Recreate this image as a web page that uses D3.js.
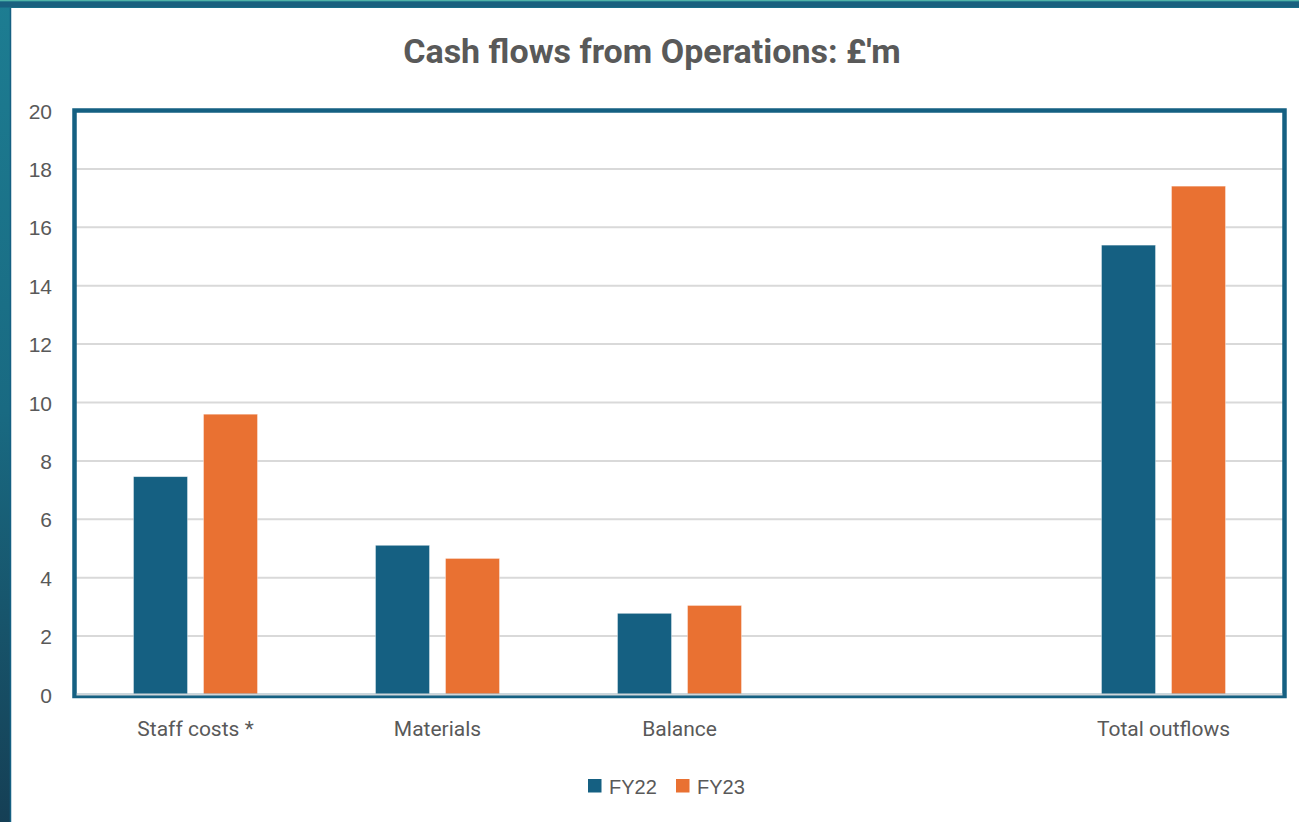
<!DOCTYPE html>
<html>
<head>
<meta charset="utf-8">
<script src="https://cdn.jsdelivr.net/npm/d3@7"></script>
<style>
  body { margin: 0; padding: 0; overflow: hidden; }
</style>
</head>
<body>
<div id="chart"></div>
<script>
// chart data
const categories = ["Staff costs *", "Materials", "Balance", "", "Total outflows"];
const seriesNames = ["FY22", "FY23"];
const fy22 = [7.46, 5.11, 2.78, null, 15.39];
const fy23 = [9.60, 4.66, 3.05, null, 17.41];
const yTicks = [0, 2, 4, 6, 8, 10, 12, 14, 16, 18, 20];

const W = 1299, H = 822;
const colors = { FY22: "#156082", FY23: "#E97132" };
const textGrey = "#595959";

const svg = d3.select("#chart")
    .append("svg")
    .attr("width", W)
    .attr("height", H);

// slide background behind the chart
const defs = svg.append("defs");
const grad = defs.append("linearGradient")
    .attr("id", "bg")
    .attr("x1", 0).attr("y1", 0).attr("x2", 0).attr("y2", 1);
grad.append("stop").attr("offset", "0%").attr("stop-color", "#1d7d92");
grad.append("stop").attr("offset", "50%").attr("stop-color", "#196a82");
grad.append("stop").attr("offset", "100%").attr("stop-color", "#153f55");

svg.append("rect").attr("width", W).attr("height", H).attr("fill", "url(#bg)");
svg.append("rect").attr("x", 0).attr("y", 0).attr("width", W).attr("height", 1.5).attr("fill", "#4fb3a8");
svg.append("rect").attr("x", 0).attr("y", 1.5).attr("width", W).attr("height", 6).attr("fill", "#19607f");
svg.append("rect")
    .attr("x", 11).attr("y", 8)
    .attr("width", W - 11).attr("height", H - 8)
    .attr("fill", "#ffffff");
svg.append("line")
    .attr("x1", 10.5).attr("x2", 10.5).attr("y1", 8).attr("y2", H)
    .attr("stroke", "#156082").attr("stroke-width", 1.5);

// scales
const plot = { left: 74.5, right: 1284.5, top: 110.5, bottom: 694.5 };

const x0 = d3.scaleBand()
    .domain(categories)
    .range([plot.left, plot.right])
    .paddingInner(0.4876)
    .paddingOuter(0.2438);

const x1 = d3.scaleBand()
    .domain(seriesNames)
    .range([0, x0.bandwidth()])
    .paddingInner(0.2286);

const y = d3.scaleLinear()
    .domain([0, 20])
    .range([plot.bottom, plot.top]);

// gridlines
svg.append("g")
    .selectAll("line")
    .data(yTicks.filter(t => t > 0 && t < 20))
    .enter()
    .append("line")
    .attr("x1", plot.left)
    .attr("x2", plot.right)
    .attr("y1", d => y(d))
    .attr("y2", d => y(d))
    .attr("stroke", "#d9d9d9")
    .attr("stroke-width", 2);

// bars
const rows = categories.map((c, i) => ({ cat: c, FY22: fy22[i], FY23: fy23[i] }));

svg.append("g")
    .selectAll("g")
    .data(rows.filter(d => d.FY22 != null))
    .enter()
    .append("g")
    .attr("transform", d => `translate(${x0(d.cat)},0)`)
    .selectAll("rect")
    .data(d => seriesNames.map(k => ({ key: k, value: d[k] })))
    .enter()
    .append("rect")
    .attr("x", d => x1(d.key))
    .attr("y", d => y(d.value))
    .attr("width", x1.bandwidth())
    .attr("height", d => y(0) - y(d.value))
    .attr("fill", d => colors[d.key])
    .attr("stroke", "#ffffff")
    .attr("stroke-opacity", 0.5)
    .attr("stroke-width", 0.75);

// plot border
svg.append("rect")
    .attr("x", plot.left)
    .attr("y", plot.top)
    .attr("width", plot.right - plot.left)
    .attr("height", plot.bottom + 1.5 - plot.top)
    .attr("fill", "none")
    .attr("stroke", "#156082")
    .attr("stroke-width", 4.5);

// x axis line
svg.append("line")
    .attr("x1", plot.left + 2)
    .attr("x2", plot.right - 2)
    .attr("y1", plot.bottom)
    .attr("y2", plot.bottom)
    .attr("stroke", "#cfd6da")
    .attr("stroke-width", 2);

// y axis
const yAxis = d3.axisLeft(y)
    .tickValues(yTicks)
    .tickSize(0)
    .tickPadding(0);

const yG = svg.append("g")
    .attr("transform", "translate(52,0)")
    .call(yAxis);
yG.select(".domain").remove();
yG.selectAll("text")
    .attr("font-family", "'Liberation Sans', Arial, sans-serif")
    .attr("font-size", "21px")
    .attr("fill", textGrey)
    .attr("dy", "0.36em");

// x axis labels
const xAxis = d3.axisBottom(x0).tickSize(0).tickPadding(0);
const xG = svg.append("g")
    .attr("transform", "translate(0,736)")
    .call(xAxis);
xG.select(".domain").remove();
xG.selectAll("text")
    .attr("font-family", "Roboto, sans-serif")
    .attr("font-size", "21px")
    .attr("fill", textGrey)
    .attr("dy", "0");

// title
svg.append("text")
    .attr("x", 652)
    .attr("y", 63)
    .attr("text-anchor", "middle")
    .attr("font-family", "Roboto, sans-serif")
    .attr("font-weight", "bold")
    .attr("font-size", "34px")
    .attr("fill", textGrey)
    .text("Cash flows from Operations: £'m");

// legend
const legend = svg.append("g").attr("transform", "translate(588,779)");
const legX = [0, 88];
seriesNames.forEach((s, i) => {
    legend.append("rect")
        .attr("x", legX[i]).attr("y", 0)
        .attr("width", 13.5).attr("height", 13.5)
        .attr("fill", colors[s]);
    legend.append("text")
        .attr("x", legX[i] + 21)
        .attr("y", 15)
        .attr("font-family", "'Liberation Sans', Arial, sans-serif")
        .attr("font-size", "20px")
        .attr("fill", textGrey)
        .text(s);
});
</script>
</body>
</html>
